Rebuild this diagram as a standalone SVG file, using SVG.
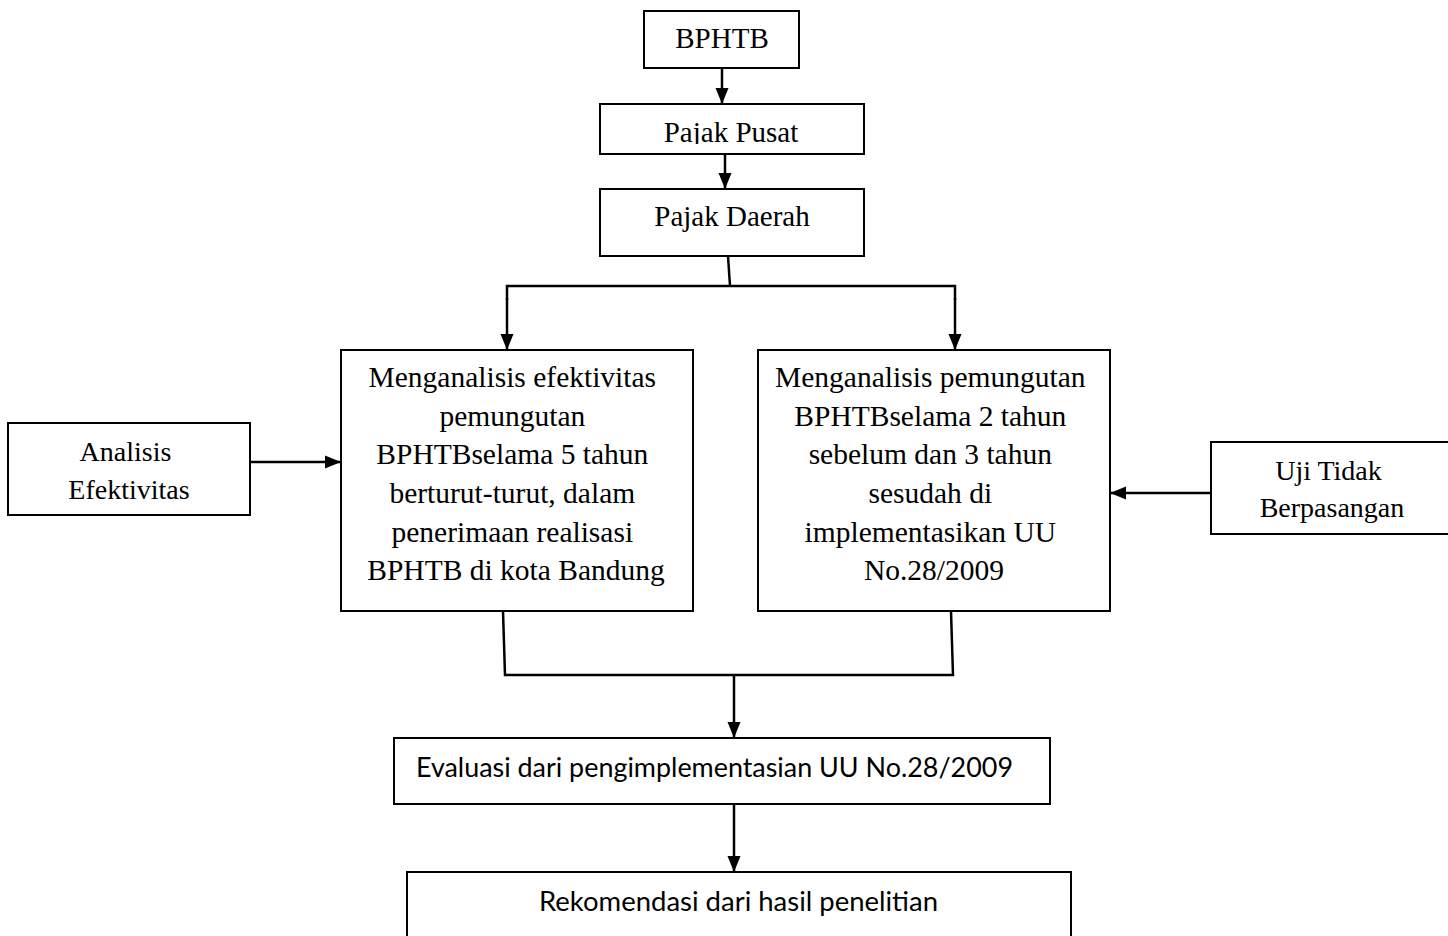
<svg xmlns="http://www.w3.org/2000/svg" width="1448" height="936" viewBox="0 0 1448 936">
<style>
  .box { fill: #ffffff; stroke: #000000; stroke-width: 2; }
  .ln { fill: none; stroke: #000000; stroke-width: 2.5; }
  .tr { font-family: "Liberation Serif", "Times New Roman", serif; font-size: 29px; fill: #000000; text-anchor: middle; }
  .tm { font-size: 29.5px; }
  .ts { font-size: 28px; }
  .cb { font-family: "Lato", "Open Sans", sans-serif; font-size: 26px; fill: #000000; }
</style>
<defs>
  <marker id="arr" markerUnits="userSpaceOnUse" markerWidth="18" markerHeight="16" viewBox="0 0 18 16" refX="16" refY="8" orient="auto">
    <path d="M0,1.5 L16,8 L0,14.5 Z" fill="#000000"/>
  </marker>
  <clipPath id="clipPusat"><rect x="600" y="104" width="264" height="40"/></clipPath>
</defs>
<rect width="1448" height="936" fill="#ffffff"/>

<g id="n-bphtb">
  <rect class="box" x="644" y="11" width="155" height="57"/>
  <text class="tr" x="722" y="48">BPHTB</text>
</g>
<g id="n-pusat">
  <rect class="box" x="600" y="104" width="264" height="50"/>
  <text class="tr" x="731" y="142" clip-path="url(#clipPusat)">Pajak Pusat</text>
</g>
<g id="n-daerah">
  <rect class="box" x="600" y="189" width="264" height="67"/>
  <text class="tr" x="732" y="226">Pajak Daerah</text>
</g>
<g id="n-efektivitas">
  <rect class="box" x="341" y="350" width="352" height="261"/>
  <text class="tr tm" x="516">
    <tspan x="516" y="387">Menganalisis efektivitas</tspan>
    <tspan x="516" y="425.7">pemungutan</tspan>
    <tspan x="516" y="464.3">BPHTBselama 5 tahun</tspan>
    <tspan x="516" y="503">berturut-turut, dalam</tspan>
    <tspan x="516" y="541.6">penerimaan realisasi</tspan>
    <tspan x="516" y="580.3">BPHTB di kota Bandung</tspan>
  </text>
</g>
<g id="n-pemungutan">
  <rect class="box" x="758" y="350" width="352" height="261"/>
  <text class="tr tm" x="934">
    <tspan x="934" y="387">Menganalisis pemungutan</tspan>
    <tspan x="934" y="425.7">BPHTBselama 2 tahun</tspan>
    <tspan x="934" y="464.3">sebelum dan 3 tahun</tspan>
    <tspan x="934" y="503">sesudah di</tspan>
    <tspan x="934" y="541.6">implementasikan UU</tspan>
    <tspan x="934" y="580.3">No.28/2009</tspan>
  </text>
</g>
<g id="n-analisis">
  <rect class="box" x="8" y="423" width="242" height="92"/>
  <text class="tr ts" x="129">
    <tspan x="129" y="461">Analisis</tspan>
    <tspan x="129" y="499">Efektivitas</tspan>
  </text>
</g>
<g id="n-uji">
  <rect class="box" x="1211" y="442" width="250" height="92"/>
  <text class="tr ts" x="1332">
    <tspan x="1332" y="480">Uji Tidak</tspan>
    <tspan x="1332" y="517">Berpasangan</tspan>
  </text>
</g>
<g id="n-evaluasi">
  <rect class="box" x="394" y="738" width="656" height="66"/>
  <text class="cb" x="416" y="777" textLength="597" lengthAdjust="spacingAndGlyphs">Evaluasi dari pengimplementasian UU No.28/2009</text>
</g>
<g id="n-rekomendasi">
  <rect class="box" x="407" y="872" width="664" height="80"/>
  <text class="cb" x="539" y="911" textLength="399" lengthAdjust="spacingAndGlyphs">Rekomendasi dari hasil penelitian</text>
</g>

<g id="connectors">
  <line class="ln" x1="722" y1="68" x2="722" y2="104" marker-end="url(#arr)"/>
  <line class="ln" x1="725" y1="154" x2="725" y2="189" marker-end="url(#arr)"/>
  <polyline class="ln" points="728,256 730,286"/>
  <polyline class="ln" points="507,300 507,286 955,286 955,300"/>
  <line class="ln" x1="507" y1="298" x2="507" y2="350" marker-end="url(#arr)"/>
  <line class="ln" x1="955" y1="298" x2="955" y2="350" marker-end="url(#arr)"/>
  <line class="ln" x1="250" y1="462" x2="341" y2="462" marker-end="url(#arr)"/>
  <line class="ln" x1="1211" y1="493" x2="1110" y2="493" marker-end="url(#arr)"/>
  <polyline class="ln" points="503,611 505,675 953,675 951,611"/>
  <line class="ln" x1="734" y1="675" x2="734" y2="738" marker-end="url(#arr)"/>
  <line class="ln" x1="734" y1="804" x2="734" y2="872" marker-end="url(#arr)"/>
</g>
</svg>
